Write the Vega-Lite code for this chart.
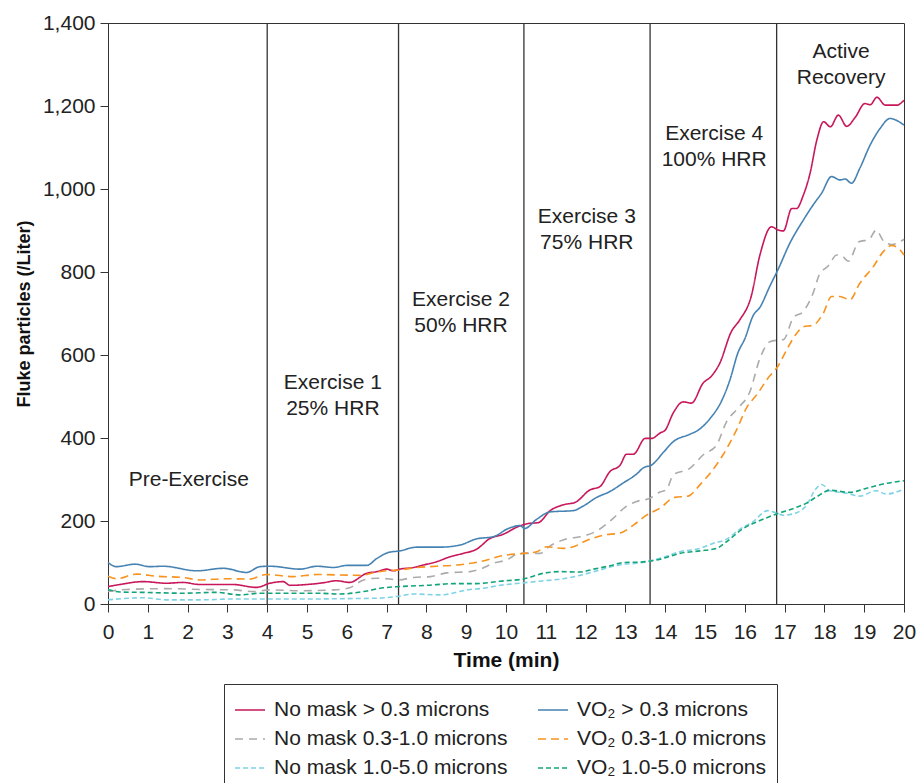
{
  "$schema": "https://vega.github.io/schema/vega-lite/v6.json",
  "autosize": "none",
  "width": 796,
  "height": 581,
  "padding": {"left": 108, "top": 23, "right": 12, "bottom": 179},
  "background": "white",
  "config": {
    "font": "Liberation Sans",
    "view": {"stroke": "#333", "strokeWidth": 1},
    "axis": {
      "grid": false,
      "domainColor": "#333",
      "tickColor": "#333",
      "labelColor": "#222",
      "titleColor": "#111",
      "labelFont": "Liberation Sans",
      "titleFont": "Liberation Sans",
      "labelFontSize": 21,
      "titleFontSize": 21,
      "titleFontWeight": "bold",
      "tickSize": 8
    },
    "axisY": {"titleFontSize": 18},
    "legend": {
      "title": null, "orient": "none", "legendX": 116, "legendY": 661, "columns": 2,
      "direction": "horizontal", "symbolType": "stroke", "symbolSize": 900, "symbolStrokeWidth": 1.6,
      "labelFontSize": 21, "labelFont": "Liberation Sans", "labelColor": "#222", "labelOffset": 8, "labelLimit": 400,
      "columnPadding": 26, "rowPadding": 3, "padding": 10, "strokeColor": "#333", "fillColor": "white"
    }
  },
  "layer": [
    {
      "data": {"values": [{"t": 4}, {"t": 7.3}, {"t": 10.45}, {"t": 13.62}, {"t": 16.8}]},
      "mark": {"type": "rule", "color": "#333", "strokeWidth": 1.3},
      "encoding": {
        "x": {
          "field": "t", "type": "quantitative", "title": "Time (min)",
          "scale": {"domain": [0, 20], "nice": false},
          "axis": {"values": [0,1,2,3,4,5,6,7,8,9,10,11,12,13,14,15,16,17,18,19,20], "format": "d", "labelPadding": 9, "titlePadding": 7, "labelFlush": false}
        }
      }
    },
    {
      "data": {"values": [
        {"s": "No mask > 0.3 microns", "t": 0, "v": 42}, {"s": "No mask > 0.3 microns", "t": 0.3, "v": 47}, {"s": "No mask > 0.3 microns", "t": 0.88, "v": 54},
        {"s": "No mask > 0.3 microns", "t": 1.47, "v": 50}, {"s": "No mask > 0.3 microns", "t": 1.88, "v": 52}, {"s": "No mask > 0.3 microns", "t": 2.3, "v": 47},
        {"s": "No mask > 0.3 microns", "t": 3.14, "v": 47}, {"s": "No mask > 0.3 microns", "t": 3.73, "v": 40}, {"s": "No mask > 0.3 microns", "t": 4.07, "v": 50},
        {"s": "No mask > 0.3 microns", "t": 4.4, "v": 54}, {"s": "No mask > 0.3 microns", "t": 4.57, "v": 45}, {"s": "No mask > 0.3 microns", "t": 5.0, "v": 47},
        {"s": "No mask > 0.3 microns", "t": 5.4, "v": 51}, {"s": "No mask > 0.3 microns", "t": 5.74, "v": 56}, {"s": "No mask > 0.3 microns", "t": 6.07, "v": 52},
        {"s": "No mask > 0.3 microns", "t": 6.5, "v": 74}, {"s": "No mask > 0.3 microns", "t": 6.76, "v": 78}, {"s": "No mask > 0.3 microns", "t": 7.0, "v": 84},
        {"s": "No mask > 0.3 microns", "t": 7.17, "v": 80}, {"s": "No mask > 0.3 microns", "t": 7.33, "v": 84}, {"s": "No mask > 0.3 microns", "t": 7.68, "v": 88},
        {"s": "No mask > 0.3 microns", "t": 7.93, "v": 94}, {"s": "No mask > 0.3 microns", "t": 8.26, "v": 102}, {"s": "No mask > 0.3 microns", "t": 8.6, "v": 114},
        {"s": "No mask > 0.3 microns", "t": 8.93, "v": 122}, {"s": "No mask > 0.3 microns", "t": 9.26, "v": 132}, {"s": "No mask > 0.3 microns", "t": 9.6, "v": 158},
        {"s": "No mask > 0.3 microns", "t": 9.93, "v": 168}, {"s": "No mask > 0.3 microns", "t": 10.27, "v": 185}, {"s": "No mask > 0.3 microns", "t": 10.56, "v": 194},
        {"s": "No mask > 0.3 microns", "t": 10.81, "v": 196}, {"s": "No mask > 0.3 microns", "t": 11.11, "v": 225}, {"s": "No mask > 0.3 microns", "t": 11.44, "v": 239},
        {"s": "No mask > 0.3 microns", "t": 11.74, "v": 245}, {"s": "No mask > 0.3 microns", "t": 12.11, "v": 275}, {"s": "No mask > 0.3 microns", "t": 12.36, "v": 283},
        {"s": "No mask > 0.3 microns", "t": 12.61, "v": 319}, {"s": "No mask > 0.3 microns", "t": 12.87, "v": 335}, {"s": "No mask > 0.3 microns", "t": 13.03, "v": 361},
        {"s": "No mask > 0.3 microns", "t": 13.2, "v": 361}, {"s": "No mask > 0.3 microns", "t": 13.5, "v": 399}, {"s": "No mask > 0.3 microns", "t": 13.66, "v": 399},
        {"s": "No mask > 0.3 microns", "t": 13.87, "v": 412}, {"s": "No mask > 0.3 microns", "t": 14.0, "v": 419}, {"s": "No mask > 0.3 microns", "t": 14.2, "v": 460},
        {"s": "No mask > 0.3 microns", "t": 14.45, "v": 487}, {"s": "No mask > 0.3 microns", "t": 14.66, "v": 484}, {"s": "No mask > 0.3 microns", "t": 14.95, "v": 532},
        {"s": "No mask > 0.3 microns", "t": 15.16, "v": 549}, {"s": "No mask > 0.3 microns", "t": 15.37, "v": 580}, {"s": "No mask > 0.3 microns", "t": 15.66, "v": 656},
        {"s": "No mask > 0.3 microns", "t": 15.87, "v": 684}, {"s": "No mask > 0.3 microns", "t": 16.16, "v": 741}, {"s": "No mask > 0.3 microns", "t": 16.38, "v": 841},
        {"s": "No mask > 0.3 microns", "t": 16.67, "v": 909}, {"s": "No mask > 0.3 microns", "t": 16.84, "v": 901}, {"s": "No mask > 0.3 microns", "t": 16.97, "v": 899},
        {"s": "No mask > 0.3 microns", "t": 17.18, "v": 953}, {"s": "No mask > 0.3 microns", "t": 17.3, "v": 953}, {"s": "No mask > 0.3 microns", "t": 17.47, "v": 985},
        {"s": "No mask > 0.3 microns", "t": 17.64, "v": 1038}, {"s": "No mask > 0.3 microns", "t": 17.81, "v": 1118}, {"s": "No mask > 0.3 microns", "t": 17.98, "v": 1162},
        {"s": "No mask > 0.3 microns", "t": 18.15, "v": 1150}, {"s": "No mask > 0.3 microns", "t": 18.35, "v": 1178}, {"s": "No mask > 0.3 microns", "t": 18.56, "v": 1151},
        {"s": "No mask > 0.3 microns", "t": 18.77, "v": 1172}, {"s": "No mask > 0.3 microns", "t": 19.02, "v": 1206}, {"s": "No mask > 0.3 microns", "t": 19.15, "v": 1203},
        {"s": "No mask > 0.3 microns", "t": 19.32, "v": 1221}, {"s": "No mask > 0.3 microns", "t": 19.53, "v": 1202}, {"s": "No mask > 0.3 microns", "t": 19.82, "v": 1202},
        {"s": "No mask > 0.3 microns", "t": 20, "v": 1214},

        {"s": "VO₂ > 0.3 microns", "t": 0, "v": 100}, {"s": "VO₂ > 0.3 microns", "t": 0.21, "v": 90}, {"s": "VO₂ > 0.3 microns", "t": 0.68, "v": 96},
        {"s": "VO₂ > 0.3 microns", "t": 1.05, "v": 90}, {"s": "VO₂ > 0.3 microns", "t": 1.39, "v": 91}, {"s": "VO₂ > 0.3 microns", "t": 2.23, "v": 80},
        {"s": "VO₂ > 0.3 microns", "t": 2.9, "v": 86}, {"s": "VO₂ > 0.3 microns", "t": 3.48, "v": 76}, {"s": "VO₂ > 0.3 microns", "t": 3.82, "v": 90},
        {"s": "VO₂ > 0.3 microns", "t": 4.07, "v": 91}, {"s": "VO₂ > 0.3 microns", "t": 4.83, "v": 84}, {"s": "VO₂ > 0.3 microns", "t": 5.25, "v": 91},
        {"s": "VO₂ > 0.3 microns", "t": 5.67, "v": 88}, {"s": "VO₂ > 0.3 microns", "t": 6.0, "v": 93}, {"s": "VO₂ > 0.3 microns", "t": 6.5, "v": 93},
        {"s": "VO₂ > 0.3 microns", "t": 6.76, "v": 110}, {"s": "VO₂ > 0.3 microns", "t": 7.04, "v": 124}, {"s": "VO₂ > 0.3 microns", "t": 7.33, "v": 128},
        {"s": "VO₂ > 0.3 microns", "t": 7.76, "v": 137}, {"s": "VO₂ > 0.3 microns", "t": 8.34, "v": 137}, {"s": "VO₂ > 0.3 microns", "t": 8.84, "v": 142},
        {"s": "VO₂ > 0.3 microns", "t": 9.26, "v": 157}, {"s": "VO₂ > 0.3 microns", "t": 9.68, "v": 162}, {"s": "VO₂ > 0.3 microns", "t": 10.06, "v": 182},
        {"s": "VO₂ > 0.3 microns", "t": 10.35, "v": 189}, {"s": "VO₂ > 0.3 microns", "t": 10.47, "v": 182}, {"s": "VO₂ > 0.3 microns", "t": 10.77, "v": 204},
        {"s": "VO₂ > 0.3 microns", "t": 11.11, "v": 222}, {"s": "VO₂ > 0.3 microns", "t": 11.69, "v": 225}, {"s": "VO₂ > 0.3 microns", "t": 11.94, "v": 236},
        {"s": "VO₂ > 0.3 microns", "t": 12.28, "v": 257}, {"s": "VO₂ > 0.3 microns", "t": 12.61, "v": 271}, {"s": "VO₂ > 0.3 microns", "t": 12.95, "v": 292},
        {"s": "VO₂ > 0.3 microns", "t": 13.28, "v": 313}, {"s": "VO₂ > 0.3 microns", "t": 13.45, "v": 328}, {"s": "VO₂ > 0.3 microns", "t": 13.66, "v": 335},
        {"s": "VO₂ > 0.3 microns", "t": 13.96, "v": 366}, {"s": "VO₂ > 0.3 microns", "t": 14.2, "v": 391}, {"s": "VO₂ > 0.3 microns", "t": 14.62, "v": 409},
        {"s": "VO₂ > 0.3 microns", "t": 14.83, "v": 419}, {"s": "VO₂ > 0.3 microns", "t": 15.12, "v": 446}, {"s": "VO₂ > 0.3 microns", "t": 15.42, "v": 490},
        {"s": "VO₂ > 0.3 microns", "t": 15.62, "v": 538}, {"s": "VO₂ > 0.3 microns", "t": 15.83, "v": 606}, {"s": "VO₂ > 0.3 microns", "t": 16.0, "v": 639},
        {"s": "VO₂ > 0.3 microns", "t": 16.21, "v": 695}, {"s": "VO₂ > 0.3 microns", "t": 16.38, "v": 715}, {"s": "VO₂ > 0.3 microns", "t": 16.63, "v": 766},
        {"s": "VO₂ > 0.3 microns", "t": 16.84, "v": 807}, {"s": "VO₂ > 0.3 microns", "t": 17.13, "v": 869}, {"s": "VO₂ > 0.3 microns", "t": 17.47, "v": 925},
        {"s": "VO₂ > 0.3 microns", "t": 17.72, "v": 962}, {"s": "VO₂ > 0.3 microns", "t": 17.93, "v": 990}, {"s": "VO₂ > 0.3 microns", "t": 18.18, "v": 1030},
        {"s": "VO₂ > 0.3 microns", "t": 18.39, "v": 1022}, {"s": "VO₂ > 0.3 microns", "t": 18.52, "v": 1024}, {"s": "VO₂ > 0.3 microns", "t": 18.68, "v": 1014},
        {"s": "VO₂ > 0.3 microns", "t": 18.89, "v": 1050}, {"s": "VO₂ > 0.3 microns", "t": 19.15, "v": 1106}, {"s": "VO₂ > 0.3 microns", "t": 19.4, "v": 1146},
        {"s": "VO₂ > 0.3 microns", "t": 19.65, "v": 1170}, {"s": "VO₂ > 0.3 microns", "t": 19.82, "v": 1165}, {"s": "VO₂ > 0.3 microns", "t": 20, "v": 1154},

        {"s": "No mask 0.3-1.0 microns", "t": 0, "v": 30}, {"s": "No mask 0.3-1.0 microns", "t": 0.46, "v": 35}, {"s": "No mask 0.3-1.0 microns", "t": 1.47, "v": 37},
        {"s": "No mask 0.3-1.0 microns", "t": 2.3, "v": 35}, {"s": "No mask 0.3-1.0 microns", "t": 3.14, "v": 34}, {"s": "No mask 0.3-1.0 microns", "t": 3.64, "v": 30},
        {"s": "No mask 0.3-1.0 microns", "t": 4.07, "v": 34}, {"s": "No mask 0.3-1.0 microns", "t": 4.83, "v": 32}, {"s": "No mask 0.3-1.0 microns", "t": 5.67, "v": 34},
        {"s": "No mask 0.3-1.0 microns", "t": 6.07, "v": 39}, {"s": "No mask 0.3-1.0 microns", "t": 6.42, "v": 58}, {"s": "No mask 0.3-1.0 microns", "t": 6.76, "v": 62},
        {"s": "No mask 0.3-1.0 microns", "t": 7.1, "v": 60}, {"s": "No mask 0.3-1.0 microns", "t": 7.3, "v": 58}, {"s": "No mask 0.3-1.0 microns", "t": 7.68, "v": 64},
        {"s": "No mask 0.3-1.0 microns", "t": 8.1, "v": 66}, {"s": "No mask 0.3-1.0 microns", "t": 8.51, "v": 75}, {"s": "No mask 0.3-1.0 microns", "t": 9.1, "v": 78},
        {"s": "No mask 0.3-1.0 microns", "t": 9.35, "v": 84}, {"s": "No mask 0.3-1.0 microns", "t": 9.68, "v": 98}, {"s": "No mask 0.3-1.0 microns", "t": 10.01, "v": 106},
        {"s": "No mask 0.3-1.0 microns", "t": 10.35, "v": 122}, {"s": "No mask 0.3-1.0 microns", "t": 10.85, "v": 122}, {"s": "No mask 0.3-1.0 microns", "t": 11.11, "v": 140},
        {"s": "No mask 0.3-1.0 microns", "t": 11.53, "v": 157}, {"s": "No mask 0.3-1.0 microns", "t": 11.86, "v": 162}, {"s": "No mask 0.3-1.0 microns", "t": 12.28, "v": 176},
        {"s": "No mask 0.3-1.0 microns", "t": 12.7, "v": 207}, {"s": "No mask 0.3-1.0 microns", "t": 12.99, "v": 233}, {"s": "No mask 0.3-1.0 microns", "t": 13.28, "v": 247},
        {"s": "No mask 0.3-1.0 microns", "t": 13.62, "v": 255}, {"s": "No mask 0.3-1.0 microns", "t": 13.87, "v": 270}, {"s": "No mask 0.3-1.0 microns", "t": 14.03, "v": 275},
        {"s": "No mask 0.3-1.0 microns", "t": 14.2, "v": 311}, {"s": "No mask 0.3-1.0 microns", "t": 14.62, "v": 327}, {"s": "No mask 0.3-1.0 microns", "t": 14.95, "v": 359},
        {"s": "No mask 0.3-1.0 microns", "t": 15.29, "v": 383}, {"s": "No mask 0.3-1.0 microns", "t": 15.54, "v": 439}, {"s": "No mask 0.3-1.0 microns", "t": 15.83, "v": 472},
        {"s": "No mask 0.3-1.0 microns", "t": 16.13, "v": 512}, {"s": "No mask 0.3-1.0 microns", "t": 16.38, "v": 592}, {"s": "No mask 0.3-1.0 microns", "t": 16.63, "v": 632},
        {"s": "No mask 0.3-1.0 microns", "t": 16.84, "v": 636}, {"s": "No mask 0.3-1.0 microns", "t": 16.97, "v": 637}, {"s": "No mask 0.3-1.0 microns", "t": 17.22, "v": 690},
        {"s": "No mask 0.3-1.0 microns", "t": 17.47, "v": 705}, {"s": "No mask 0.3-1.0 microns", "t": 17.72, "v": 750}, {"s": "No mask 0.3-1.0 microns", "t": 17.87, "v": 793},
        {"s": "No mask 0.3-1.0 microns", "t": 18.1, "v": 815}, {"s": "No mask 0.3-1.0 microns", "t": 18.31, "v": 841}, {"s": "No mask 0.3-1.0 microns", "t": 18.45, "v": 838},
        {"s": "No mask 0.3-1.0 microns", "t": 18.6, "v": 826}, {"s": "No mask 0.3-1.0 microns", "t": 18.87, "v": 873}, {"s": "No mask 0.3-1.0 microns", "t": 19.12, "v": 878},
        {"s": "No mask 0.3-1.0 microns", "t": 19.3, "v": 901}, {"s": "No mask 0.3-1.0 microns", "t": 19.5, "v": 873}, {"s": "No mask 0.3-1.0 microns", "t": 19.7, "v": 866},
        {"s": "No mask 0.3-1.0 microns", "t": 19.82, "v": 869}, {"s": "No mask 0.3-1.0 microns", "t": 20, "v": 879},

        {"s": "VO₂ 0.3-1.0 microns", "t": 0, "v": 67}, {"s": "VO₂ 0.3-1.0 microns", "t": 0.21, "v": 61}, {"s": "VO₂ 0.3-1.0 microns", "t": 0.72, "v": 72},
        {"s": "VO₂ 0.3-1.0 microns", "t": 1.22, "v": 67}, {"s": "VO₂ 0.3-1.0 microns", "t": 1.88, "v": 64}, {"s": "VO₂ 0.3-1.0 microns", "t": 2.3, "v": 58},
        {"s": "VO₂ 0.3-1.0 microns", "t": 2.97, "v": 61}, {"s": "VO₂ 0.3-1.0 microns", "t": 3.56, "v": 60}, {"s": "VO₂ 0.3-1.0 microns", "t": 3.98, "v": 71},
        {"s": "VO₂ 0.3-1.0 microns", "t": 4.65, "v": 66}, {"s": "VO₂ 0.3-1.0 microns", "t": 5.25, "v": 71}, {"s": "VO₂ 0.3-1.0 microns", "t": 5.83, "v": 70},
        {"s": "VO₂ 0.3-1.0 microns", "t": 6.33, "v": 69}, {"s": "VO₂ 0.3-1.0 microns", "t": 6.76, "v": 77}, {"s": "VO₂ 0.3-1.0 microns", "t": 7.1, "v": 81},
        {"s": "VO₂ 0.3-1.0 microns", "t": 7.33, "v": 82}, {"s": "VO₂ 0.3-1.0 microns", "t": 7.68, "v": 87}, {"s": "VO₂ 0.3-1.0 microns", "t": 8.26, "v": 91},
        {"s": "VO₂ 0.3-1.0 microns", "t": 8.76, "v": 94}, {"s": "VO₂ 0.3-1.0 microns", "t": 9.35, "v": 102}, {"s": "VO₂ 0.3-1.0 microns", "t": 9.93, "v": 117},
        {"s": "VO₂ 0.3-1.0 microns", "t": 10.43, "v": 122}, {"s": "VO₂ 0.3-1.0 microns", "t": 10.77, "v": 126}, {"s": "VO₂ 0.3-1.0 microns", "t": 11.02, "v": 138},
        {"s": "VO₂ 0.3-1.0 microns", "t": 11.44, "v": 134}, {"s": "VO₂ 0.3-1.0 microns", "t": 11.69, "v": 138}, {"s": "VO₂ 0.3-1.0 microns", "t": 12.03, "v": 153},
        {"s": "VO₂ 0.3-1.0 microns", "t": 12.45, "v": 166}, {"s": "VO₂ 0.3-1.0 microns", "t": 12.87, "v": 171}, {"s": "VO₂ 0.3-1.0 microns", "t": 13.2, "v": 190},
        {"s": "VO₂ 0.3-1.0 microns", "t": 13.53, "v": 214}, {"s": "VO₂ 0.3-1.0 microns", "t": 13.87, "v": 231}, {"s": "VO₂ 0.3-1.0 microns", "t": 14.24, "v": 257},
        {"s": "VO₂ 0.3-1.0 microns", "t": 14.58, "v": 260}, {"s": "VO₂ 0.3-1.0 microns", "t": 14.87, "v": 287}, {"s": "VO₂ 0.3-1.0 microns", "t": 15.16, "v": 319},
        {"s": "VO₂ 0.3-1.0 microns", "t": 15.45, "v": 359}, {"s": "VO₂ 0.3-1.0 microns", "t": 15.79, "v": 419}, {"s": "VO₂ 0.3-1.0 microns", "t": 16.04, "v": 472},
        {"s": "VO₂ 0.3-1.0 microns", "t": 16.33, "v": 508}, {"s": "VO₂ 0.3-1.0 microns", "t": 16.58, "v": 544}, {"s": "VO₂ 0.3-1.0 microns", "t": 16.84, "v": 574},
        {"s": "VO₂ 0.3-1.0 microns", "t": 17.05, "v": 612}, {"s": "VO₂ 0.3-1.0 microns", "t": 17.3, "v": 652}, {"s": "VO₂ 0.3-1.0 microns", "t": 17.47, "v": 668},
        {"s": "VO₂ 0.3-1.0 microns", "t": 17.72, "v": 672}, {"s": "VO₂ 0.3-1.0 microns", "t": 17.97, "v": 700}, {"s": "VO₂ 0.3-1.0 microns", "t": 18.18, "v": 741},
        {"s": "VO₂ 0.3-1.0 microns", "t": 18.39, "v": 741}, {"s": "VO₂ 0.3-1.0 microns", "t": 18.64, "v": 733}, {"s": "VO₂ 0.3-1.0 microns", "t": 18.89, "v": 773},
        {"s": "VO₂ 0.3-1.0 microns", "t": 19.23, "v": 813}, {"s": "VO₂ 0.3-1.0 microns", "t": 19.48, "v": 849}, {"s": "VO₂ 0.3-1.0 microns", "t": 19.69, "v": 864},
        {"s": "VO₂ 0.3-1.0 microns", "t": 19.86, "v": 857}, {"s": "VO₂ 0.3-1.0 microns", "t": 20, "v": 841},

        {"s": "No mask 1.0-5.0 microns", "t": 0, "v": 10}, {"s": "No mask 1.0-5.0 microns", "t": 0.88, "v": 15}, {"s": "No mask 1.0-5.0 microns", "t": 1.47, "v": 10},
        {"s": "No mask 1.0-5.0 microns", "t": 2.3, "v": 10}, {"s": "No mask 1.0-5.0 microns", "t": 3.14, "v": 12}, {"s": "No mask 1.0-5.0 microns", "t": 4.07, "v": 12},
        {"s": "No mask 1.0-5.0 microns", "t": 4.83, "v": 12}, {"s": "No mask 1.0-5.0 microns", "t": 6.07, "v": 13}, {"s": "No mask 1.0-5.0 microns", "t": 6.76, "v": 14},
        {"s": "No mask 1.0-5.0 microns", "t": 7.25, "v": 18}, {"s": "No mask 1.0-5.0 microns", "t": 7.68, "v": 24}, {"s": "No mask 1.0-5.0 microns", "t": 8.34, "v": 22},
        {"s": "No mask 1.0-5.0 microns", "t": 9.1, "v": 35}, {"s": "No mask 1.0-5.0 microns", "t": 9.35, "v": 37}, {"s": "No mask 1.0-5.0 microns", "t": 9.85, "v": 45},
        {"s": "No mask 1.0-5.0 microns", "t": 10.43, "v": 51}, {"s": "No mask 1.0-5.0 microns", "t": 10.85, "v": 55}, {"s": "No mask 1.0-5.0 microns", "t": 11.36, "v": 60},
        {"s": "No mask 1.0-5.0 microns", "t": 11.86, "v": 69}, {"s": "No mask 1.0-5.0 microns", "t": 12.36, "v": 82}, {"s": "No mask 1.0-5.0 microns", "t": 12.95, "v": 96},
        {"s": "No mask 1.0-5.0 microns", "t": 13.28, "v": 98}, {"s": "No mask 1.0-5.0 microns", "t": 13.87, "v": 110}, {"s": "No mask 1.0-5.0 microns", "t": 14.37, "v": 126},
        {"s": "No mask 1.0-5.0 microns", "t": 14.87, "v": 134}, {"s": "No mask 1.0-5.0 microns", "t": 15.2, "v": 146}, {"s": "No mask 1.0-5.0 microns", "t": 15.54, "v": 156},
        {"s": "No mask 1.0-5.0 microns", "t": 15.87, "v": 180}, {"s": "No mask 1.0-5.0 microns", "t": 16.2, "v": 198}, {"s": "No mask 1.0-5.0 microns", "t": 16.58, "v": 225},
        {"s": "No mask 1.0-5.0 microns", "t": 16.71, "v": 222}, {"s": "No mask 1.0-5.0 microns", "t": 16.97, "v": 214}, {"s": "No mask 1.0-5.0 microns", "t": 17.3, "v": 220},
        {"s": "No mask 1.0-5.0 microns", "t": 17.55, "v": 238}, {"s": "No mask 1.0-5.0 microns", "t": 17.76, "v": 274}, {"s": "No mask 1.0-5.0 microns", "t": 17.93, "v": 288},
        {"s": "No mask 1.0-5.0 microns", "t": 18.14, "v": 273}, {"s": "No mask 1.0-5.0 microns", "t": 18.56, "v": 267}, {"s": "No mask 1.0-5.0 microns", "t": 18.89, "v": 260},
        {"s": "No mask 1.0-5.0 microns", "t": 19.3, "v": 273}, {"s": "No mask 1.0-5.0 microns", "t": 19.55, "v": 265}, {"s": "No mask 1.0-5.0 microns", "t": 20, "v": 277},

        {"s": "VO₂ 1.0-5.0 microns", "t": 0, "v": 35}, {"s": "VO₂ 1.0-5.0 microns", "t": 0.3, "v": 29}, {"s": "VO₂ 1.0-5.0 microns", "t": 0.88, "v": 28},
        {"s": "VO₂ 1.0-5.0 microns", "t": 1.88, "v": 26}, {"s": "VO₂ 1.0-5.0 microns", "t": 2.72, "v": 28}, {"s": "VO₂ 1.0-5.0 microns", "t": 3.31, "v": 22},
        {"s": "VO₂ 1.0-5.0 microns", "t": 3.82, "v": 26}, {"s": "VO₂ 1.0-5.0 microns", "t": 4.4, "v": 26}, {"s": "VO₂ 1.0-5.0 microns", "t": 5.25, "v": 26},
        {"s": "VO₂ 1.0-5.0 microns", "t": 5.83, "v": 24}, {"s": "VO₂ 1.0-5.0 microns", "t": 6.42, "v": 30}, {"s": "VO₂ 1.0-5.0 microns", "t": 6.92, "v": 39},
        {"s": "VO₂ 1.0-5.0 microns", "t": 7.33, "v": 42}, {"s": "VO₂ 1.0-5.0 microns", "t": 8.01, "v": 45}, {"s": "VO₂ 1.0-5.0 microns", "t": 8.68, "v": 49},
        {"s": "VO₂ 1.0-5.0 microns", "t": 9.26, "v": 49}, {"s": "VO₂ 1.0-5.0 microns", "t": 9.85, "v": 55}, {"s": "VO₂ 1.0-5.0 microns", "t": 10.43, "v": 60},
        {"s": "VO₂ 1.0-5.0 microns", "t": 10.94, "v": 74}, {"s": "VO₂ 1.0-5.0 microns", "t": 11.36, "v": 78}, {"s": "VO₂ 1.0-5.0 microns", "t": 11.86, "v": 77},
        {"s": "VO₂ 1.0-5.0 microns", "t": 12.2, "v": 84}, {"s": "VO₂ 1.0-5.0 microns", "t": 12.61, "v": 92}, {"s": "VO₂ 1.0-5.0 microns", "t": 12.95, "v": 100},
        {"s": "VO₂ 1.0-5.0 microns", "t": 13.37, "v": 101}, {"s": "VO₂ 1.0-5.0 microns", "t": 13.87, "v": 108}, {"s": "VO₂ 1.0-5.0 microns", "t": 14.37, "v": 122},
        {"s": "VO₂ 1.0-5.0 microns", "t": 14.87, "v": 128}, {"s": "VO₂ 1.0-5.0 microns", "t": 15.29, "v": 134}, {"s": "VO₂ 1.0-5.0 microns", "t": 15.54, "v": 150},
        {"s": "VO₂ 1.0-5.0 microns", "t": 15.96, "v": 182}, {"s": "VO₂ 1.0-5.0 microns", "t": 16.38, "v": 201}, {"s": "VO₂ 1.0-5.0 microns", "t": 16.8, "v": 217},
        {"s": "VO₂ 1.0-5.0 microns", "t": 17.3, "v": 233}, {"s": "VO₂ 1.0-5.0 microns", "t": 17.55, "v": 243}, {"s": "VO₂ 1.0-5.0 microns", "t": 17.8, "v": 258},
        {"s": "VO₂ 1.0-5.0 microns", "t": 18.14, "v": 274}, {"s": "VO₂ 1.0-5.0 microns", "t": 18.64, "v": 269}, {"s": "VO₂ 1.0-5.0 microns", "t": 19.06, "v": 279},
        {"s": "VO₂ 1.0-5.0 microns", "t": 19.47, "v": 289}, {"s": "VO₂ 1.0-5.0 microns", "t": 20, "v": 297}
      ]},
      "mark": {"type": "line", "interpolate": "monotone", "strokeWidth": 1.6},
      "encoding": {
        "x": {
          "field": "t", "type": "quantitative", "title": "Time (min)",
          "scale": {"domain": [0, 20], "nice": false},
          "axis": {"values": [0,1,2,3,4,5,6,7,8,9,10,11,12,13,14,15,16,17,18,19,20], "format": "d", "labelPadding": 9, "titlePadding": 7, "labelFlush": false}
        },
        "y": {
          "field": "v", "type": "quantitative", "title": "Fluke particles (/Liter)",
          "scale": {"domain": [0, 1400], "nice": false},
          "axis": {"values": [0, 200, 400, 600, 800, 1000, 1200, 1400], "format": ",.0f", "labelPadding": 5, "titlePadding": 9, "labelFlush": false}
        },
        "color": {
          "field": "s", "type": "nominal",
          "scale": {
            "domain": ["No mask > 0.3 microns", "VO₂ > 0.3 microns", "No mask 0.3-1.0 microns", "VO₂ 0.3-1.0 microns", "No mask 1.0-5.0 microns", "VO₂ 1.0-5.0 microns"],
            "range": ["#c8175a", "#4683b3", "#ababab", "#f7931e", "#7fd2e6", "#13a47a"]
          }
        },
        "strokeDash": {
          "field": "s", "type": "nominal",
          "scale": {
            "domain": ["No mask > 0.3 microns", "VO₂ > 0.3 microns", "No mask 0.3-1.0 microns", "VO₂ 0.3-1.0 microns", "No mask 1.0-5.0 microns", "VO₂ 1.0-5.0 microns"],
            "range": [[1, 0], [1, 0], [8, 6], [8, 5], [5, 3], [5, 3]]
          }
        }
      }
    },
    {
      "data": {"values": [
        {"t": 2.03, "v": 299, "label": "Pre-Exercise"},
        {"t": 5.65, "v": 533, "label": "Exercise 1\n25% HRR"},
        {"t": 8.87, "v": 733, "label": "Exercise 2\n50% HRR"},
        {"t": 12.03, "v": 933, "label": "Exercise 3\n75% HRR"},
        {"t": 15.23, "v": 1133, "label": "Exercise 4\n100% HRR"},
        {"t": 18.42, "v": 1330, "label": "Active\nRecovery"}
      ]},
      "mark": {"type": "text", "lineBreak": "\n", "fontSize": 21, "font": "Liberation Sans", "color": "#222", "align": "center", "baseline": "middle", "lineHeight": 26},
      "encoding": {
        "x": {
          "field": "t", "type": "quantitative", "title": "Time (min)",
          "scale": {"domain": [0, 20], "nice": false},
          "axis": {"values": [0,1,2,3,4,5,6,7,8,9,10,11,12,13,14,15,16,17,18,19,20], "format": "d", "labelPadding": 9, "titlePadding": 7, "labelFlush": false}
        },
        "y": {
          "field": "v", "type": "quantitative", "title": "Fluke particles (/Liter)",
          "scale": {"domain": [0, 1400], "nice": false},
          "axis": {"values": [0, 200, 400, 600, 800, 1000, 1200, 1400], "format": ",.0f", "labelPadding": 5, "titlePadding": 9, "labelFlush": false}
        },
        "text": {"field": "label"}
      }
    }
  ]
}
